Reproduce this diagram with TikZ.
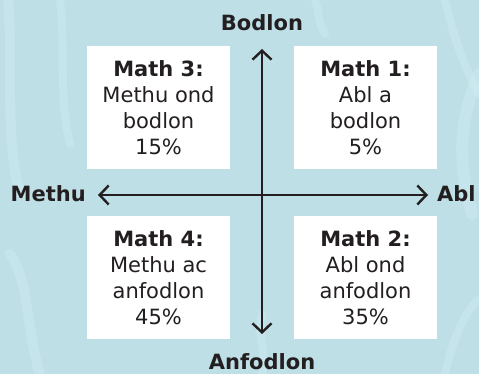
\documentclass[tikz,border=0pt]{standalone}
\usepackage{fontspec}
\setmainfont{DejaVu Sans}
\usetikzlibrary{arrows.meta}
\definecolor{bgblue}{RGB}{190,223,230}
\definecolor{lightstreak}{RGB}{214,240,246}
\definecolor{ink}{RGB}{35,31,32}
\tikzset{
  quadbox/.style={fill=white, draw=none, minimum width=143pt, minimum height=123pt,
    inner sep=0pt, align=center, text=ink, font=\fontsize{21}{26}\selectfont},
  axislabel/.style={text=ink, font=\fontsize{21}{24}\selectfont\bfseries, inner sep=0pt},
  axisline/.style={draw=ink, line width=2.6pt, {Straight Barb[length=9pt,width=19pt,line width=2.4pt]}-{Straight Barb[length=9pt,width=19pt,line width=2.4pt]}},
  streak/.style={draw=lightstreak, line cap=round, opacity=0.35}
}
\begin{document}
\begin{tikzpicture}[x=1pt,y=1pt]
% background
\fill[bgblue] (0,0) rectangle (479,374);
\useasboundingbox (0,0) rectangle (479,374);
\begin{scope}
\clip (0,0) rectangle (479,374);
\draw[streak, line width=10pt] (8,374) .. controls (14,300) and (4,240) .. (20,180);
\draw[streak, line width=8pt] (60,374) .. controls (66,320) and (58,280) .. (70,230);
\draw[streak, line width=12pt] (479,300) .. controls (462,260) and (455,220) .. (472,160);
\draw[streak, line width=8pt] (445,374) .. controls (455,330) and (468,300) .. (479,280);
\draw[streak, line width=10pt] (10,120) .. controls (30,90) and (25,50) .. (40,0);
\draw[streak, line width=8pt] (262,0) .. controls (268,20) and (256,40) .. (262,60);
\draw[streak, line width=8pt] (445,0) .. controls (452,30) and (462,60) .. (479,75);
\draw[streak, line width=8pt] (315,374) .. controls (320,360) and (318,350) .. (325,340);
\end{scope}
% boxes
\node[quadbox] (q3) at (158.5,266.5) {\textbf{Math 3:}\\Methu ond\\bodlon\\15\%};
\node[quadbox] (q1) at (365.5,266.5) {\textbf{Math 1:}\\Abl a\\bodlon\\5\%};
\node[quadbox] (q4) at (158.5,96.5) {\textbf{Math 4:}\\Methu ac\\anfodlon\\45\%};
\node[quadbox] (q2) at (365.5,96.5) {\textbf{Math 2:}\\Abl ond\\anfodlon\\35\%};
% axis labels
\node[axislabel] (top) at (262,351) {Bodlon};
\node[axislabel] (bottom) at (262,12.5) {Anfodlon};
\node[axislabel, anchor=east] (left) at (86,180) {Methu};
\node[axislabel, anchor=west] (right) at (437,180) {Abl};
% axes
\coordinate (ytop) at (262,325);
\coordinate (ybot) at (262,40);
\coordinate (xleft) at (98,179);
\coordinate (xright) at (428,179);
\draw[axisline] (ybot) -- (ytop);
\draw[axisline] (xleft) -- (xright);
\end{tikzpicture}
\end{document}
